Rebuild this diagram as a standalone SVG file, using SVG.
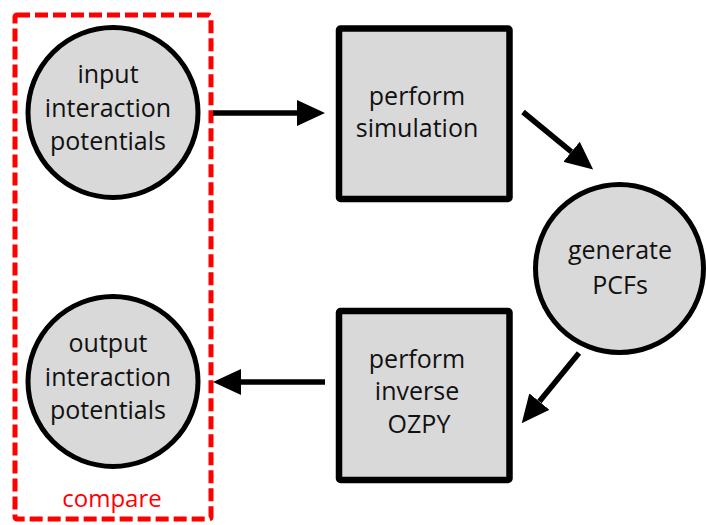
<svg xmlns="http://www.w3.org/2000/svg" width="706" height="525" viewBox="0 0 706 525">
  <style>
    .node { fill: #d9d9d9; stroke: #000; }
    .circ { stroke-width: 5; }
    .box { stroke-width: 6.5; }
    .lbl { font-family: "Open Sans", "Liberation Sans", sans-serif; font-size: 25px; fill: #111; text-anchor: middle; }
    .conn { stroke: #000; stroke-width: 5.5; fill: none; marker-end: url(#arrow); }
    .group { fill: none; stroke: #ff0000; stroke-width: 5; stroke-dasharray: 13 5; }
    .glabel { font-family: "Open Sans", "Liberation Sans", sans-serif; font-size: 24px; fill: #ff0000; text-anchor: middle; }
  </style>
  <defs>
    <marker id="arrow" markerUnits="userSpaceOnUse" viewBox="0 -13 28 26" refX="0" refY="0" markerWidth="28" markerHeight="26" orient="auto">
      <path d="M0,-13 L28,0 L0,13 z" fill="#000"/>
    </marker>
  </defs>
  <rect width="706" height="525" fill="#fff"/>

  <g id="compare">
    <rect class="group" x="15" y="15" width="196" height="504" rx="2"/>
    <text class="glabel" x="112" y="507">compare</text>
  </g>

  <g id="input">
    <circle class="node circ" cx="113" cy="112.5" r="85"/>
    <text class="lbl" x="108" y="83">input</text>
    <text class="lbl" x="108" y="117">interaction</text>
    <text class="lbl" x="108" y="150">potentials</text>
  </g>

  <g id="output">
    <circle class="node circ" cx="113" cy="381.5" r="85"/>
    <text class="lbl" x="108" y="352">output</text>
    <text class="lbl" x="108" y="386">interaction</text>
    <text class="lbl" x="108" y="419">potentials</text>
  </g>

  <g id="simulation">
    <rect class="node box" x="339" y="28.5" width="170.5" height="170.5" rx="1.5"/>
    <text class="lbl" x="417" y="105">perform</text>
    <text class="lbl" x="417" y="137">simulation</text>
  </g>

  <g id="generate">
    <circle class="node circ" cx="619.5" cy="268.5" r="84"/>
    <text class="lbl" x="620" y="259">generate</text>
    <text class="lbl" x="620" y="294">PCFs</text>
  </g>

  <g id="inverse">
    <rect class="node box" x="339" y="311" width="170.5" height="169" rx="1.5"/>
    <text class="lbl" x="417" y="368">perform</text>
    <text class="lbl" x="417" y="400">inverse</text>
    <text class="lbl" x="419" y="433">OZPY</text>
  </g>

  <g id="connectors">
    <line class="conn" x1="213" y1="113" x2="297" y2="113"/>
    <line class="conn" x1="523" y1="112" x2="571.5" y2="151.8"/>
    <line class="conn" x1="579" y1="353" x2="539.4" y2="401.6"/>
    <line class="conn" x1="325" y1="382" x2="241" y2="382"/>
  </g>
</svg>
